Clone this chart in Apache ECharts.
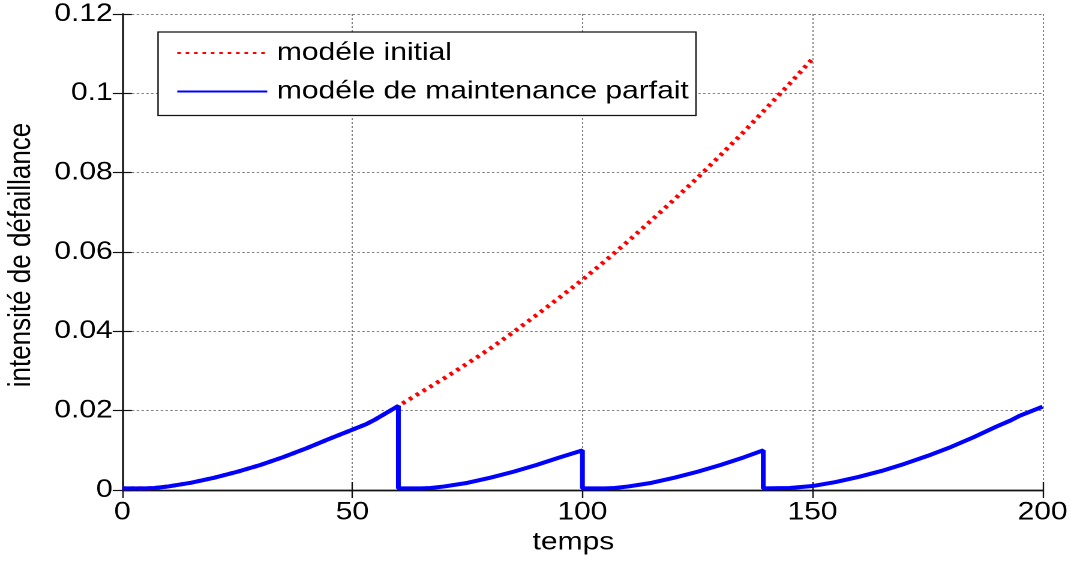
<!DOCTYPE html>
<html>
<head>
<meta charset="utf-8">
<title>intensité de défaillance</title>
<script src="https://cdn.jsdelivr.net/npm/echarts@6/dist/echarts.min.js"></script>
<style>
  html, body { margin: 0; padding: 0; background: #fff; overflow: hidden; }
  #wrap { width: 1069px; height: 563px; overflow: hidden; }
  /* the figure is laid out narrow and widened horizontally, like the exported figure */
  #chart { width: 890.8px; height: 563px; transform: scaleX(1.2); transform-origin: 0 0; }
</style>
</head>
<body>
<div id="wrap"><div id="chart"></div></div>
<script>
// Initial model: failure intensity vs time
const tInitial = [0, 5, 7, 10, 15, 20, 25, 30, 35, 40, 45, 50, 53, 55, 60,
  65, 70, 75, 80, 85, 90, 95, 100, 105, 110, 115, 120, 125, 130, 135, 140, 145, 150];
const lambdaInitial = [0.0004, 0.0004, 0.0005, 0.0009, 0.00185, 0.0031, 0.0046, 0.0063, 0.0083, 0.0105, 0.0129, 0.0152, 0.0166, 0.0178, 0.0212,
  0.0247, 0.0282, 0.0319, 0.0357, 0.0398, 0.0441, 0.0485, 0.0530, 0.0578, 0.0628, 0.0680, 0.0733, 0.0787, 0.0844, 0.0902, 0.0963, 0.1024, 0.1087];

// Perfect maintenance model: intensity returns to zero at each maintenance
const tMaint = [0, 5, 7, 10, 15, 20, 25, 30, 35, 40, 45, 50, 53, 55, 60,
  60, 65, 67, 70, 75, 80, 85, 90, 95, 100,
  100, 105, 107, 110, 115, 120, 125, 130, 135, 139.3,
  139.3, 145, 150, 155, 160, 165, 170, 175, 180, 185, 190, 193, 195, 200];
const lambdaMaint = [0.0004, 0.0004, 0.0005, 0.0009, 0.00185, 0.0031, 0.0046, 0.0063, 0.0083, 0.0105, 0.0129, 0.0152, 0.0166, 0.0178, 0.0212,
  0.0004, 0.0004, 0.0005, 0.0009, 0.0018, 0.0031, 0.0046, 0.0063, 0.0082, 0.0100,
  0.0004, 0.0004, 0.0005, 0.0009, 0.0018, 0.0031, 0.0046, 0.0063, 0.0082, 0.0100,
  0.0004, 0.0005, 0.0010, 0.0020, 0.0033, 0.0048, 0.0066, 0.0086, 0.0108, 0.0133, 0.0160, 0.0175, 0.0187, 0.0210];

const seriesNames = ['modéle initial', 'modéle de maintenance parfait'];
const xTicks = { min: 0, max: 200, interval: 50 };
const yTicks = { min: 0, max: 0.12, interval: 0.02 };

const zip = (xs, ys) => xs.map((x, i) => [x, ys[i]]);

const FONT = "'Liberation Sans', Arial, sans-serif";
const frameLine = { show: true, lineStyle: { color: '#111', width: 1.4 } };
const insideTick = { show: true, inside: true, length: 8, lineStyle: { color: '#111', width: 1.2 } };
const gridLine = { show: true, lineStyle: { color: '#808080', width: 1, type: [2, 2] } };

const chart = echarts.init(document.getElementById('chart'), null, { renderer: 'canvas', devicePixelRatio: 2 });

chart.setOption({
  animation: false,
  backgroundColor: '#fff',
  textStyle: { fontFamily: FONT },
  grid: { left: 101.9, right: 22.2, top: 14, bottom: 73, containLabel: false, outerBoundsMode: 'none' },
  legend: {
    orient: 'vertical',
    left: 131.7,
    top: 32,
    padding: [8, 6, 11, 15],
    itemGap: 12.5,
    itemWidth: 75,
    itemHeight: 26,
    backgroundColor: '#fff',
    borderColor: '#111',
    borderWidth: 1.2,
    borderRadius: 0,
    itemStyle: { opacity: 0 },
    textStyle: { fontSize: 25, color: '#000', fontFamily: FONT, padding: [0, 0, 0, 3], lineHeight: 26 },
    data: seriesNames
  },
  xAxis: [
    {
      type: 'value', position: 'bottom',
      min: xTicks.min, max: xTicks.max, interval: xTicks.interval,
      name: 'temps', nameLocation: 'middle', nameGap: 37,
      nameTextStyle: { fontSize: 25, color: '#000', padding: [0, 15, 0, 0] },
      axisLine: frameLine, axisTick: insideTick,
      axisLabel: { fontSize: 25, color: '#000', margin: 10 },
      splitLine: gridLine
    },
    {
      type: 'value', position: 'top',
      min: xTicks.min, max: xTicks.max, interval: xTicks.interval,
      axisLine: frameLine, axisTick: insideTick,
      axisLabel: { show: false }, splitLine: { show: false }
    }
  ],
  yAxis: [
    {
      type: 'value', position: 'left',
      min: yTicks.min, max: yTicks.max, interval: yTicks.interval,
      name: 'intensité de défaillance', nameLocation: 'middle', nameGap: 71, nameRotate: 90,
      nameTextStyle: { fontSize: 26, color: '#000', padding: [0, 6, 0, 0] },
      axisLine: frameLine, axisTick: insideTick,
      axisLabel: { fontSize: 25, color: '#000', margin: 8 },
      splitLine: gridLine
    },
    {
      type: 'value', position: 'right',
      min: yTicks.min, max: yTicks.max, interval: yTicks.interval,
      axisLine: frameLine, axisTick: insideTick,
      axisLabel: { show: false }, splitLine: { show: false }
    }
  ],
  series: [
    {
      name: seriesNames[0], type: 'line', xAxisIndex: 0, yAxisIndex: 0,
      data: zip(tInitial, lambdaInitial),
      symbol: 'none', smooth: false, color: '#ff0000',
      lineStyle: { color: '#ff0000', width: 4, type: [3, 4], cap: 'butt' },
      z: 2
    },
    {
      name: seriesNames[1], type: 'line', xAxisIndex: 0, yAxisIndex: 0,
      data: zip(tMaint, lambdaMaint),
      symbol: 'none', smooth: false, color: '#0000ff',
      lineStyle: { color: '#0000ff', width: 4, type: 'solid' },
      z: 3
    }
  ]
});
</script>
</body>
</html>
